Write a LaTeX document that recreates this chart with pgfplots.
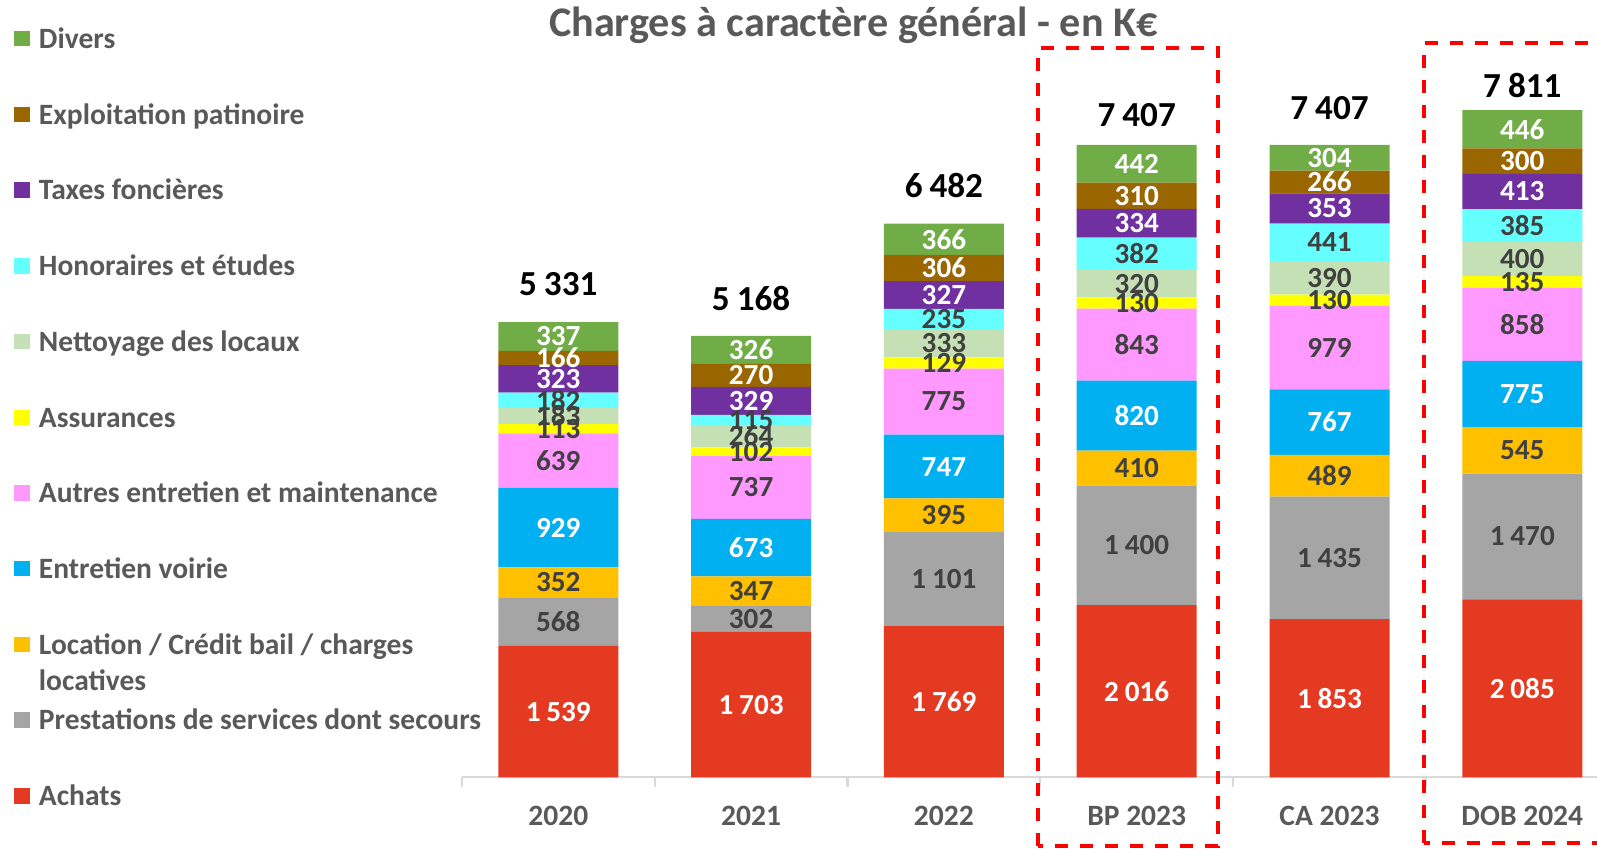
\documentclass[border=0pt]{standalone}
\usepackage{fontspec}
\setmainfont{Carlito}
\usepackage{pgfplots}
\usepackage{pgfplotstable}
\pgfplotsset{compat=1.18}

\definecolor{achats}{HTML}{E53A22}
\definecolor{prest}{HTML}{A5A5A5}
\definecolor{loc}{HTML}{FFC000}
\definecolor{voirie}{HTML}{00B0F0}
\definecolor{autres}{HTML}{FF99FF}
\definecolor{assur}{HTML}{FFFF00}
\definecolor{nett}{HTML}{C5E0B4}
\definecolor{hon}{HTML}{66FFFF}
\definecolor{taxes}{HTML}{7030A0}
\definecolor{expl}{HTML}{996600}
\definecolor{divers}{HTML}{70AD47}
\definecolor{txtgray}{HTML}{595959}
\definecolor{lblgray}{HTML}{404040}
\definecolor{axgray}{HTML}{D9D9D9}

% K€ par poste, du bas (Achats) vers le haut (Divers); lift = ecart du total (cm)
\pgfplotstableread{
idx achats prest loc  voirie autres assur nett hon taxes expl divers total lift
0   1539   568   352  929    639    113   183  182 323   166  337    5331  0.262
1   1703   302   347  673    737    102   264  115 329   270  326    5168  0.256
2   1769   1101  395  747    775    129   333  235 327   306  366    6482  0.266
3   2016   1400  410  820    843    130   320  382 334   310  442    7407  0.180
4   1853   1435  489  767    979    130   390  441 353   266  304    7407  0.250
5   2085   1470  545  775    858    135   400  385 413   300  446    7811  0.128
}\charges

\pgfplotsset{
  sq legend/.style={/pgfplots/legend image code/.code={%
    \fill[##1] (0cm,0.02cm) rectangle (0.16cm,0.175cm);}},
  % segment: couleur, colonne, couleur du chiffre
  seg/.style n args={3}{fill=#1, draw=none, sq legend,
    point meta=\thisrow{#2},
    nodes near coords,
    every node near coord/.append style={text=#3, anchor=center}},
  frame/.style={at={(4.619cm,0.707cm)}, anchor=south west,
    scale only axis, width=11.568cm, height=6.832cm,
    xmin=-0.5, xmax=5.5, ymin=0, ymax=8000, enlargelimits=false, clip=false,
    /pgf/number format/.cd, fixed, precision=0, 1000 sep={\hspace{0.2em}},
    assume math mode=true, /pgfplots/.cd},
}

\begin{document}
\begin{tikzpicture}
\path[use as bounding box] (0,0) rectangle (15.97,8.48);
\clip (0,0) rectangle (15.97,8.48);

\node[anchor=base, text=txtgray, font=\fontsize{12}{14}\selectfont\bfseries]
  at (8.535,8.11) {Charges à caractère général - en K€};

\begin{axis}[
  frame,
  ybar stacked, bar width=1.2cm,
  axis x line*=bottom, axis y line=none, ytick=\empty,
  x axis line style={draw=axgray, line width=0.6pt},
  xtick={-0.5,0.5,...,5.5}, x tick label as interval,
  xticklabels={2020,2021,2022,BP 2023,CA 2023,DOB 2024},
  tick align=outside, major tick length=0.1cm,
  xtick style={draw=axgray, line width=0.6pt},
  xticklabel style={font=\fontsize{8.4}{10}\selectfont\bfseries, text=txtgray,
    anchor=base, inner sep=0pt, yshift=-0.377cm},
  nodes near coords style={font=\fontsize{8.3}{10}\selectfont\bfseries},
  reverse legend,
  legend style={at={(axis description cs:-0.3872,1.0978)}, anchor=north west,
    draw=none, fill=none, inner sep=0pt, outer sep=0pt, row sep=0.4874cm,
    cells={anchor=base west},
    nodes={inner sep=0pt, anchor=base west, text height=0.21cm, text depth=0.06cm,
      font=\fontsize{8.4}{10.3}\selectfont\bfseries, text=txtgray},
    /tikz/every odd column/.append style={column sep=0.09cm}},
]
\addplot[seg={achats}{achats}{white}] table[x=idx, y=achats] {\charges};
\addlegendentry{Achats}
\addplot[seg={prest}{prest}{lblgray}] table[x=idx, y=prest] {\charges};
\addlegendentry{Prestations de services dont secours}
\addplot[seg={loc}{loc}{lblgray}] table[x=idx, y=loc] {\charges};
\addlegendentry{\begin{tabular}[t]{@{}l@{}}Location / Crédit bail / charges\\locatives\end{tabular}}
\addplot[seg={voirie}{voirie}{white}] table[x=idx, y=voirie] {\charges};
\addlegendentry{Entretien voirie}
\addplot[seg={autres}{autres}{lblgray}] table[x=idx, y=autres] {\charges};
\addlegendentry{Autres entretien et maintenance}
\addplot[seg={assur}{assur}{lblgray}] table[x=idx, y=assur] {\charges};
\addlegendentry{Assurances}
\addplot[seg={nett}{nett}{lblgray}] table[x=idx, y=nett] {\charges};
\addlegendentry{Nettoyage des locaux}
\addplot[seg={hon}{hon}{lblgray}] table[x=idx, y=hon] {\charges};
\addlegendentry{Honoraires et études}
\addplot[seg={taxes}{taxes}{white}] table[x=idx, y=taxes] {\charges};
\addlegendentry{Taxes foncières}
\addplot[seg={expl}{expl}{white}] table[x=idx, y=expl] {\charges};
\addlegendentry{Exploitation patinoire}
\addplot[seg={divers}{divers}{white}] table[x=idx, y=divers] {\charges};
\addlegendentry{Divers}
\end{axis}

% totaux au-dessus des piles (axe superpose, meme cadre)
\begin{axis}[frame, hide axis]
\addplot[draw=none, mark=none, nodes near coords, point meta=explicit,
  visualization depends on={\thisrow{lift} \as \lift},
  every node near coord/.append style={anchor=base, yshift=\lift cm, text=black,
    font=\fontsize{10}{12}\selectfont\bfseries}]
  table[x=idx, y=total, meta=total] {\charges};
\end{axis}

% cadres de mise en evidence
\draw[red, line width=0.04cm, dash pattern=on 0.13cm off 0.12cm]
  (10.38,0.025) rectangle (12.18,8.00);
\draw[red, line width=0.04cm, dash pattern=on 0.13cm off 0.12cm]
  (14.24,0.055) rectangle (16.40,8.05);
\end{tikzpicture}
\end{document}
